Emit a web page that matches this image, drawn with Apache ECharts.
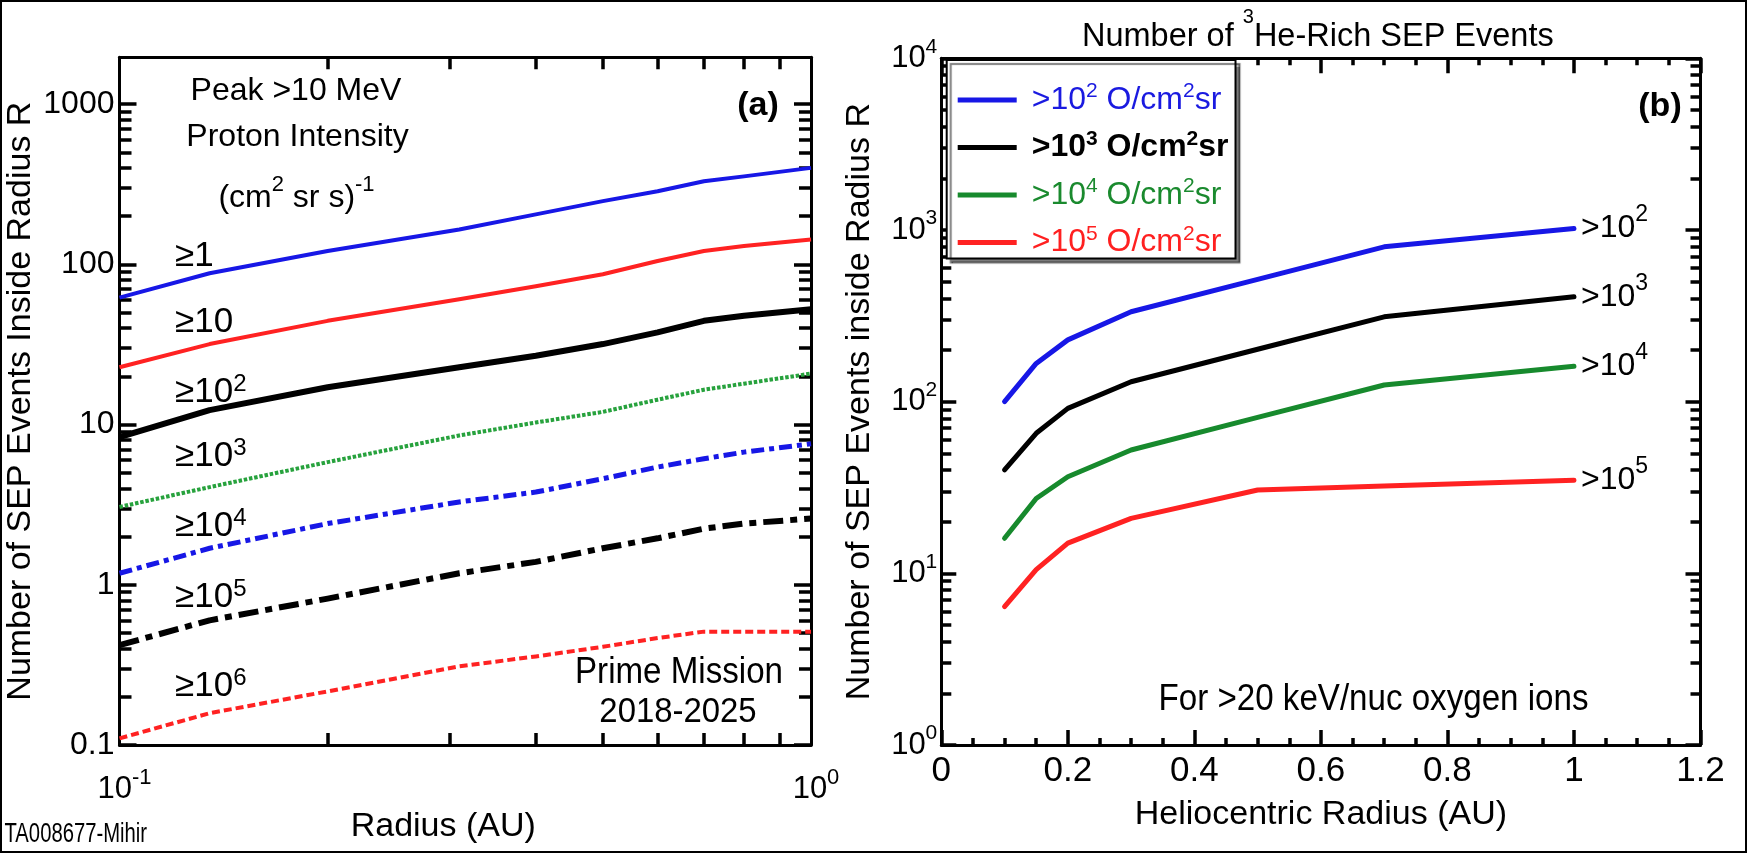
<!DOCTYPE html>
<html>
<head>
<meta charset="utf-8">
<title>SEP events inside radius R</title>
<script src="https://cdn.jsdelivr.net/npm/echarts@6/dist/echarts.min.js"></script>
<style>
  html, body { margin: 0; padding: 0; background: #fff; }
  #chart { width: 1747px; height: 853px; }
</style>
</head>
<body>
<div id="chart"></div>
<script>
// ---- panel (a): peak >10 MeV proton intensity, log-log ----
const radiusA = [0.1, 0.135, 0.2, 0.31, 0.4, 0.5, 0.6, 0.7, 0.8, 1.0];
const ge1e0 = [62, 88, 121, 165, 205, 248, 286, 330, 354, 400];
const ge1e1 = [22.8, 31.8, 44.4, 60.5, 73, 86.7, 105, 121, 130, 143];
const ge1e2 = [8.35, 12.3, 17.1, 22.8, 26.9, 31.8, 37.6, 44.4, 47.7, 52.5];
const ge1e3 = [3.06, 4.07, 5.83, 8.55, 10.3, 12.0, 14.3, 16.5, 18.0, 20.8];
const ge1e4 = [1.18, 1.69, 2.41, 3.29, 3.79, 4.59, 5.43, 6.12, 6.73, 7.58];
const ge1e5 = [0.42, 0.60, 0.82, 1.18, 1.39, 1.69, 1.95, 2.24, 2.41, 2.59];
const ge1e6 = [0.11, 0.158, 0.216, 0.31, 0.357, 0.41, 0.465, 0.51, 0.51, 0.51];

// ---- panel (b): 3He-rich events, >20 keV/nuc oxygen ----
const radiusB = [0.1, 0.15, 0.2, 0.3, 0.5, 0.7, 1.0];
const oxy1e2 = [100, 167, 229, 334, 516, 798, 1021];
const oxy1e3 = [40, 65.4, 91.4, 130.6, 202, 312, 408];
const oxy1e4 = [16, 27.3, 36.5, 52.3, 80.9, 125, 161];
const oxy1e5 = [6.4, 10.5, 15.0, 20.9, 30.6, 32.3, 34.9];

// ticks and labels
const yTicksA = [0.1, 1, 10, 100, 1000];
const yLabelsA = ['0.1', '1', '10', '100', '1000'];
const xTicksA = [0.1, 1];
const xExpA = ['-1', '0'];
const xMinorA = [0.2, 0.3, 0.4, 0.5, 0.6, 0.7, 0.8, 0.9];
const yTicksB = [1, 10, 100, 1000, 10000];
const yExpB = ['0', '1', '2', '3', '4'];
const legendNames = ['>10^2', '>10^3', '>10^4', '>10^5'];
const endExp = ['2', '3', '4', '5'];

const FONT = "'Liberation Sans', Arial, Helvetica, sans-serif";
const BLUE = '#1717e6';
const RED = '#ff2222';
const GREEN_A = '#27a23d';
const GREEN_B = '#178a2d';

const Y_MAX_A = 1960;

function minorLog(lo, hi) {
  const out = [];
  for (let d = lo; d < hi; d *= 10) {
    for (let k = 2; k <= 9; k++) out.push(+(k * d).toPrecision(3));
  }
  return out;
}
const yMinorA = minorLog(0.1, 1000);
const yMinorB = minorLog(1, 10000);
const lg = arr => arr.map(v => Math.log10(v));

function pairs(xs, ys) {
  return xs.map((x, i) => [x, ys[i]]);
}

function expOf(v, labels, ticks) {
  let best = 0;
  ticks.forEach((t, i) => { if (Math.abs(Math.log10(t) - Math.log10(v)) < 1e-6) best = i; });
  return labels[best];
}

const tickStyle = { color: '#000', width: 3.5 };
const axisLineOn = { show: true, onZero: false, lineStyle: { color: '#000', width: 3 } };
const axisLineOff = { show: false, onZero: false };

// tick-only axis drawn in log10 space so that the tick positions match the log axes
function tickAxis(grid, pos, min, max, vals, len, showLine) {
  return {
    gridIndex: grid, type: 'value', position: pos, min: min, max: max,
    splitLine: { show: false },
    axisLine: showLine ? axisLineOn : axisLineOff,
    axisLabel: { show: false },
    axisTick: { show: true, inside: true, length: len, customValues: vals, lineStyle: tickStyle }
  };
}

const xAxes = [
  // 0: panel a, data axis (log) with labels and name
  {
    gridIndex: 0, type: 'log', min: 0.1, max: 1, position: 'bottom',
    splitLine: { show: false }, axisLine: axisLineOn, axisTick: { show: false },
    axisLabel: {
      show: true, customValues: xTicksA, margin: 22, padding: [0, 0, 0, 10],
      formatter: v => '{m|10}{s|' + expOf(v, xExpA, xTicksA) + '}',
      rich: {
        m: { fontSize: 31, lineHeight: 44, fontFamily: FONT, color: '#000' },
        s: { fontSize: 22, lineHeight: 16, fontFamily: FONT, color: '#000', verticalAlign: 'top' }
      }
    },
    name: 'Radius (AU)', nameLocation: 'middle', nameGap: 53,
    nameTextStyle: { fontSize: 34, fontFamily: FONT, color: '#000', padding: [0, 44, 0, 0] }
  },
  // 1, 2: panel a, minor ticks bottom / top
  tickAxis(0, 'bottom', -1, 0, lg(xMinorA), 12, false),
  tickAxis(0, 'top', -1, 0, lg(xMinorA), 12, true),
  // 3: panel b, data axis
  {
    gridIndex: 1, type: 'value', min: 0, max: 1.2, interval: 0.2, position: 'bottom',
    splitLine: { show: false }, axisLine: axisLineOn,
    axisTick: { show: true, inside: true, length: 15, lineStyle: tickStyle },
    minorTick: { show: true, splitNumber: 4, length: 7, lineStyle: tickStyle },
    axisLabel: {
      show: true, margin: 9, fontSize: 35, fontFamily: FONT, color: '#000',
      formatter: v => String(+v.toFixed(1))
    },
    name: 'Heliocentric Radius (AU)', nameLocation: 'middle', nameGap: 53,
    nameTextStyle: { fontSize: 34, fontFamily: FONT, color: '#000' }
  },
  // 4: panel b, top
  {
    gridIndex: 1, type: 'value', min: 0, max: 1.2, interval: 0.2, position: 'top',
    splitLine: { show: false }, axisLine: axisLineOn, axisLabel: { show: false },
    axisTick: { show: true, inside: true, length: 15, lineStyle: tickStyle },
    minorTick: { show: true, splitNumber: 4, length: 7, lineStyle: tickStyle }
  }
];

const yMaxLogA = Math.log10(Y_MAX_A);
const yAxes = [
  // 0: panel a, data axis with labels and name
  {
    gridIndex: 0, type: 'log', min: 0.1, max: Y_MAX_A, position: 'left',
    splitLine: { show: false }, axisLine: axisLineOn, axisTick: { show: false },
    axisLabel: {
      show: true, customValues: yTicksA, margin: 5, fontSize: 32, fontFamily: FONT, color: '#000',
      formatter: v => expOf(v, yLabelsA, yTicksA)
    },
    name: 'Number of SEP Events Inside Radius R', nameLocation: 'middle', nameGap: 82,
    nameTextStyle: { fontSize: 34, fontFamily: FONT, color: '#000' }
  },
  tickAxis(0, 'left', -1, yMaxLogA, lg(yTicksA), 17, false),
  tickAxis(0, 'left', -1, yMaxLogA, lg(yMinorA), 12, false),
  tickAxis(0, 'right', -1, yMaxLogA, lg(yTicksA), 17, true),
  tickAxis(0, 'right', -1, yMaxLogA, lg(yMinorA), 12, false),
  // 5: panel b, data axis with labels and name
  {
    gridIndex: 1, type: 'log', min: 1, max: 10000, position: 'left',
    splitLine: { show: false }, axisLine: axisLineOn, axisTick: { show: false },
    axisLabel: {
      show: true, customValues: yTicksB, margin: 4,
      formatter: v => '{m|10}{s|' + expOf(v, yExpB, yTicksB) + '}',
      rich: {
        m: { fontSize: 31, lineHeight: 44, fontFamily: FONT, color: '#000' },
        s: { fontSize: 21, lineHeight: 18, fontFamily: FONT, color: '#000', verticalAlign: 'top' }
      }
    },
    name: 'Number of SEP Events inside Radius R', nameLocation: 'middle', nameGap: 65,
    nameTextStyle: { fontSize: 34, fontFamily: FONT, color: '#000' }
  },
  tickAxis(1, 'left', 0, 4, lg(yTicksB), 15, false),
  tickAxis(1, 'left', 0, 4, lg(yMinorB), 10, false),
  tickAxis(1, 'right', 0, 4, lg(yTicksB), 15, true),
  tickAxis(1, 'right', 0, 4, lg(yMinorB), 10, false)
];

function lineA(ys, color, width, type) {
  return {
    type: 'line', xAxisIndex: 0, yAxisIndex: 0, data: pairs(radiusA, ys),
    showSymbol: false, symbol: 'none', silent: true,
    lineStyle: { color: color, width: width, type: type, cap: 'butt', join: 'round' }
  };
}

function lineB(name, ys, color, exp) {
  return {
    type: 'line', name: name, xAxisIndex: 3, yAxisIndex: 5, data: pairs(radiusB, ys),
    showSymbol: false, symbol: 'none', silent: true, color: color,
    lineStyle: { color: color, width: 5, cap: 'round', join: 'round' },
    endLabel: {
      show: true, distance: 7,
      formatter: '{m|>10}{s|' + exp + '}',
      rich: {
        m: { fontSize: 32, lineHeight: 50, fontFamily: FONT, color: '#000' },
        s: { fontSize: 23, lineHeight: 10, fontFamily: FONT, color: '#000', verticalAlign: 'top' }
      }
    }
  };
}

const series = [
  lineA(ge1e0, BLUE, 4, 'solid'),
  lineA(ge1e1, RED, 4, 'solid'),
  lineA(ge1e2, '#000', 6, 'solid'),
  lineA(ge1e3, GREEN_A, 4, [3.5, 1.8]),
  lineA(ge1e4, BLUE, 5, [13, 5, 5, 5]),
  lineA(ge1e5, '#000', 6, [20, 7, 7, 7]),
  lineA(ge1e6, RED, 4, [8, 4]),
  lineB(legendNames[0], oxy1e2, BLUE, endExp[0]),
  lineB(legendNames[1], oxy1e3, '#000', endExp[1]),
  lineB(legendNames[2], oxy1e4, GREEN_B, endExp[2]),
  lineB(legendNames[3], oxy1e5, RED, endExp[3])
];

function legendRich(key, color, weight) {
  const r = {};
  r[key + '0'] = { fontSize: 32, lineHeight: 38, fontFamily: FONT, color: color, fontWeight: weight, padding: [0, 0, 0, 10] };
  r[key] = { fontSize: 32, lineHeight: 38, fontFamily: FONT, color: color, fontWeight: weight };
  r[key + 's'] = { fontSize: 21, lineHeight: 10, fontFamily: FONT, color: color, fontWeight: weight, verticalAlign: 'top' };
  return r;
}
const legendKeys = ['b', 'k', 'g', 'r'];
const legendRichAll = Object.assign({},
  legendRich('b', '#1a1ae0', 'normal'),
  legendRich('k', '#000', 'bold'),
  legendRich('g', '#1a8a2e', 'normal'),
  legendRich('r', '#ff2020', 'normal'));

// annotation texts (zrender rich styles)
function supText(x, y, main, sup, tail, opt) {
  opt = opt || {};
  let t = '{m|' + main + '}';
  if (sup) t += '{s|' + sup + '}';
  if (tail) t += '{m|' + tail + '}';
  if (opt.sup2) t += '{s|' + opt.sup2 + '}';
  return {
    type: 'text', x: x, y: y, scaleX: opt.scaleX || 1, silent: true,
    style: {
      text: t, x: 0, y: 0, align: opt.align || 'center', verticalAlign: 'middle',
      rich: {
        m: { fontSize: opt.size || 32, lineHeight: opt.mainLH || 40, fontFamily: FONT, fill: '#000', fontWeight: opt.weight || 'normal' },
        s: { fontSize: opt.supSize || 24, lineHeight: opt.supLH || 10, fontFamily: FONT, fill: '#000', verticalAlign: 'top' }
      }
    }
  };
}

const geLabels = [
  ['≥1', '', 256.5], ['≥10', '', 322.5], ['≥10', '2', 392], ['≥10', '3', 456.7],
  ['≥10', '4', 526], ['≥10', '5', 597.5], ['≥10', '6', 686.7]
];

const graphics = [
  { type: 'rect', silent: true, shape: { x: 1, y: 1, width: 1745, height: 851 }, style: { fill: 'none', stroke: '#000', lineWidth: 2 } },
  supText(296, 91, 'Peak >10 MeV', '', '', { size: 32 }),
  supText(297.5, 137.5, 'Proton Intensity', '', '', { size: 32 }),
  supText(296.5, 198, '(cm', '2', ' sr s)', { size: 32, supSize: 22, mainLH: 48, sup2: '-1' }),
  supText(758, 106, '(a)', '', '', { size: 34, weight: 'bold' }),
  supText(1660, 106.7, '(b)', '', '', { size: 34, weight: 'bold' }),
  supText(679, 673.5, 'Prime Mission', '', '', { size: 36, scaleX: 0.92 }),
  supText(678, 712.5, '2018-2025', '', '', { size: 35, scaleX: 0.94 }),
  supText(1373.5, 700.5, 'For >20 keV/nuc oxygen ions', '', '', { size: 36, scaleX: 0.92 }),
  supText(4.5, 835, 'TA008677-Mihir', '', '', { size: 27, scaleX: 0.75, align: 'left' })
].concat(geLabels.map(g => supText(175, g[2], g[0], g[1], '', { size: 35, supSize: 24, align: 'left' })));

const chart = echarts.init(document.getElementById('chart'), null, { renderer: 'canvas' });
chart.setOption({
  animation: false,
  backgroundColor: '#fff',
  title: {
    left: 1082, top: 7.5, padding: 0,
    text: '{m|Number of }{s|3}{m|He-Rich SEP Events}',
    textStyle: {
      fontWeight: 'normal',
      rich: {
        m: { fontSize: 32.5, lineHeight: 60, fontFamily: FONT, color: '#000', fontWeight: 'normal' },
        s: { fontSize: 20, lineHeight: 5, fontFamily: FONT, color: '#000', fontWeight: 'normal', verticalAlign: 'top' }
      }
    }
  },
  grid: [
    { left: 119.5, top: 57.3, width: 691.5, height: 687.7, outerBoundsMode: 'none', containLabel: false },
    { left: 941.3, top: 58.3, width: 759.2, height: 686.7, outerBoundsMode: 'none', containLabel: false }
  ],
  legend: {
    orient: 'vertical', left: 946.7, top: 60,
    data: legendNames, selectedMode: false,
    icon: 'rect', itemWidth: 59, itemHeight: 5, itemGap: 12.5,
    padding: [21, 7, 0, 11],
    backgroundColor: '#fff', borderColor: '#000', borderWidth: 2, borderRadius: 0,
    shadowColor: 'rgba(0,0,0,0.5)', shadowOffsetX: 4, shadowOffsetY: 4, shadowBlur: 1,
    formatter: name => {
      const i = legendNames.indexOf(name);
      const k = legendKeys[i];
      const e = name.split('^')[1];
      return '{' + k + '0|>10}{' + k + 's|' + e + '}{' + k + '| O/cm}{' + k + 's|2}{' + k + '|sr}';
    },
    textStyle: { rich: legendRichAll }
  },
  xAxis: xAxes,
  yAxis: yAxes,
  series: series,
  graphic: graphics
});
</script>
</body>
</html>
